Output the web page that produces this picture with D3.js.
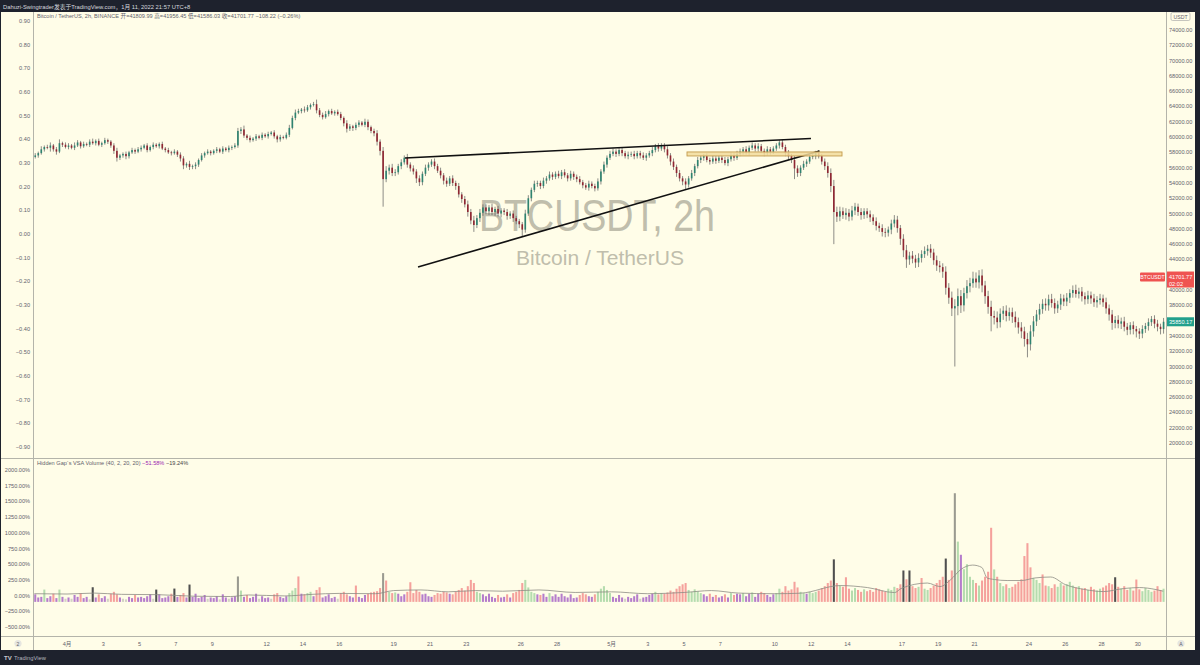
<!DOCTYPE html>
<html><head><meta charset="utf-8">
<script src="https://cdn.jsdelivr.net/npm/d3@7"></script>
<style>
html,body{margin:0;padding:0;background:#1e222d;}
svg{display:block;}
text{font-family:"Liberation Sans","Noto Sans CJK SC",Arial,sans-serif;}
</style></head><body>
<svg id="c" width="1200" height="665"></svg>
<script>
// ---------- DATA (4h candles, UTC+8, from 2021-03-30 04:00) ----------
const firstOpenK = 57.4;
const closeK = [
57.6,57.9,58.4,58.7,58.6,
58.9,58.4,58.1,59.2,59.0,58.7,
58.9,58.6,58.9,59.3,58.8,59.1,
59.0,59.4,59.2,59.5,59.0,59.2,
59.6,59.4,58.9,58.2,57.3,57.6,
57.8,57.5,58.0,58.3,58.1,58.4,
58.6,58.9,58.3,58.7,59.0,58.8,
59.1,58.5,58.3,58.0,57.9,58.1,
57.7,57.2,56.3,56.5,56.1,56.2,
56.4,57.0,57.6,57.9,58.1,57.9,
58.2,58.4,58.1,58.5,58.3,58.6,
58.7,58.9,60.8,61.0,60.2,59.9,
59.6,59.8,60.1,59.9,60.3,60.1,
60.4,60.6,60.1,59.7,60.0,59.9,
60.3,61.2,62.5,63.2,63.4,63.6,
63.5,63.9,64.2,64.3,63.5,62.9,
62.6,63.0,63.4,63.1,63.3,63.0,
62.5,61.8,61.1,61.4,61.2,61.6,
61.9,61.6,62.0,61.3,60.8,60.5,
59.4,58.2,54.5,55.6,56.0,55.3,
55.4,56.2,56.7,57.3,56.4,55.9,
55.5,54.6,54.1,55.2,56.0,56.4,
56.8,56.2,55.6,55.0,54.3,53.9,
54.6,54.0,53.6,52.5,51.9,51.2,
50.2,49.1,48.5,49.4,50.1,50.8,
50.3,50.8,50.2,50.6,50.0,50.4,
50.2,49.7,50.0,49.4,49.0,48.6,
47.9,50.0,52.0,53.1,53.9,54.0,
53.6,54.3,54.6,55.1,54.8,55.2,
54.9,55.4,55.0,54.6,55.2,54.8,
54.5,54.1,53.7,53.4,53.9,53.6,
53.3,54.2,55.5,56.4,57.3,57.8,
58.1,57.8,58.3,57.9,57.5,57.7,
57.8,57.5,57.9,57.6,57.3,57.6,
57.9,58.3,58.8,58.5,58.9,58.4,
57.6,56.8,56.1,55.3,54.6,54.2,
53.8,54.6,55.3,56.2,57.0,57.3,
57.5,57.0,56.8,57.2,56.9,57.3,
57.0,56.6,57.1,57.6,57.3,57.8,
58.1,58.4,58.0,58.6,58.9,58.5,
58.8,58.2,57.9,58.4,58.1,58.5,
58.9,59.3,58.7,57.9,57.5,57.0,
55.9,55.3,56.0,56.5,56.8,57.4,
57.5,57.9,57.5,56.8,56.2,55.3,
53.6,50.2,49.6,50.3,49.8,50.1,
49.6,50.4,50.9,50.2,49.8,50.3,
49.9,49.5,49.0,48.4,48.1,47.6,
47.5,47.9,48.7,49.2,48.1,46.7,
45.2,44.0,44.5,44.1,43.6,44.2,
44.7,45.1,45.4,44.9,43.9,43.2,
43.0,42.4,40.3,39.0,37.6,37.9,
39.2,38.0,39.6,40.5,40.9,41.5,
41.0,41.9,40.6,39.2,37.8,36.6,
36.4,35.8,36.9,37.3,36.6,37.1,
36.5,35.8,35.1,34.6,33.6,32.9,
34.6,35.9,36.8,37.5,38.2,38.0,
38.8,38.3,37.6,38.1,38.9,38.5,
39.0,39.6,40.0,39.5,39.8,39.2,
38.8,39.3,38.9,38.4,38.7,38.9,
38.4,37.6,36.8,35.7,36.1,35.6,
35.9,35.2,34.8,35.4,34.9,34.6,
34.3,34.9,35.3,35.8,36.2,35.6,
35.2,34.9,35.85
];
// upper / lower wick lengths, in hundreds of USDT
const wickUp = [
3,2,4,2,3, 4,2,3,5,2,3, 3,2,4,3,2,3, 2,3,4,2,3,2, 3,2,2,3,4,2, 2,3,2,3,2,3,
3,2,3,2,3,2, 2,3,2,3,2,3, 2,3,3,2,4,2, 3,2,3,2,3,2, 2,3,2,3,2,3, 2,3,4,3,5,2,
3,2,3,2,3,2, 3,2,3,2,3,2, 3,4,3,4,3,2, 4,3,2,3,6,3, 3,4,2,3,2,3, 3,2,4,3,2,3,
3,2,4,3,2,3, 4,3,5,6,4,5, 4,3,4,3,5,3, 4,3,4,3,4,3, 3,4,3,4,3,4, 3,4,3,4,3,4,
5,4,6,4,5,4, 4,3,5,3,4,3, 3,4,3,4,3,3, 3,5,4,3,4,3, 3,4,3,4,3,3, 4,3,4,3,4,3,
3,4,3,3,4,3, 3,4,3,4,3,4, 4,3,4,3,3,4, 3,4,3,3,4,3, 3,4,3,4,3,3, 4,3,4,3,4,3,
4,3,4,3,4,3, 3,4,3,4,3,3, 3,4,3,4,3,4, 4,3,4,3,4,3, 4,3,3,4,3,3, 3,3,4,3,4,3,
5,4,3,4,3,4, 3,3,4,3,4,5, 6,8,7,6,5,6, 5,6,5,4,5,4, 4,5,4,5,4,5, 5,4,5,6,5,4,
6,7,5,6,5,6, 5,6,5,6,5,6, 6,5,7,6,8,9, 10,8,7,8,7,9, 8,7,8,6,7,8, 7,8,7,6,7,6,
6,7,6,7,6,8, 8,7,6,7,6,7, 6,7,6,5,6,5, 6,5,6,7,5,6, 5,6,5,6,5,6, 5,6,5,6,5,6,
5,6,5,4,5,4, 4,5,4,5,4,5, 5,4,5
];
const wickDn = [
2,3,2,3,2, 5,3,4,2,3,2, 3,2,3,2,3,2, 2,3,2,3,2,3, 2,3,3,4,5,3, 3,4,3,2,3,2,
3,2,3,2,3,2, 3,2,3,2,3,2, 3,4,5,3,4,3, 4,3,2,3,2,3, 2,3,2,3,2,3, 3,2,3,4,3,3,
3,2,3,2,3,2, 3,2,3,4,3,2, 2,3,2,3,2,3, 3,2,3,2,4,3, 3,2,3,2,3,2, 3,4,5,3,4,3,
3,2,3,4,3,4, 5,6,36,4,5,4, 4,3,4,3,4,4, 4,6,5,4,3,4, 3,4,3,4,5,4, 3,4,5,4,5,4,
6,5,9,4,5,4, 4,5,4,5,4,5, 4,5,4,5,4,5, 9,4,3,4,3,4, 4,3,4,3,4,3, 3,4,3,4,3,4,
4,3,4,3,4,3, 4,3,4,3,4,3, 3,4,3,4,3,4, 3,4,3,4,3,4, 3,4,3,4,3,4, 4,5,4,5,4,5,
7,4,3,4,3,4, 4,3,4,3,4,3, 4,3,4,3,4,3, 3,4,3,4,3,4, 4,3,4,3,4,3, 3,4,3,4,5,4,
14,5,4,3,4,3, 3,4,3,4,5,6, 8,42,7,6,5,6, 6,5,6,5,6,5, 5,6,5,6,5,6, 6,5,6,5,6,8,
9,11,7,6,7,6, 6,5,6,7,6,7, 7,8,9,8,10,76, 12,10,8,7,8,6, 7,8,9,10,9,20, 9,8,7,8,7,6,
8,7,8,9,10,17, 8,7,6,7,6,7, 7,6,7,6,7,6, 6,7,6,5,6,7, 7,6,7,6,7,6, 6,7,8,9,7,6,
7,6,7,6,7,8, 7,6,5,6,5,6, 6,7,6
];
// VSA volume (%), one per candle
const volPct = [
20,-30,-20,96,-40,
-10,30,-40,96,-20,-50,
-30,-50,10,-20,40,-40,
-20,-60,133,-30,20,-40,
-10,-50,30,60,20,-30,
-50,-60,-20,-40,10,-30,
-20,-40,-10,20,-50,96,
20,-40,-30,-10,30,112,
-20,10,40,-30,176,-20,
30,-40,-20,10,-50,-30,
-40,-10,-60,20,-30,-50,
-30,-10,305,80,-20,10,
-40,-20,30,-50,-10,-40,
-30,-50,20,40,-20,-40,
-10,40,80,120,305,30,
20,40,60,-10,90,133,
-30,-10,20,-40,-20,-50,
40,60,20,-10,-30,160,
-20,-40,10,30,50,60,
70,120,358,240,60,40,
50,30,-10,20,60,213,
40,90,60,20,30,-10,
-20,10,40,30,60,50,
30,20,60,90,120,80,
150,250,200,60,40,20,
-10,30,-20,-40,10,-30,
-20,20,-30,40,60,90,
200,250,130,60,40,20,
10,30,-20,40,-10,20,
-20,30,-10,-30,20,-40,
-30,10,40,20,-10,-20,
20,60,110,150,90,40,
-20,-40,10,-30,-50,-20,
-40,-10,20,-50,-30,-20,
10,30,60,20,40,30,
50,80,60,110,150,180,
200,90,60,100,70,40,
20,-10,30,-20,10,-30,
-10,20,-30,40,10,30,
20,40,-10,30,50,-20,
30,60,40,10,-20,20,
40,110,60,150,80,100,
220,130,60,40,30,60,
40,60,80,120,150,200,
240,577,200,160,140,292,
110,80,120,90,60,100,
70,90,60,120,100,80,
60,110,90,140,120,180,
400,260,400,150,120,140,
280,110,90,120,160,200,
250,300,590,250,400,1630,
860,650,420,500,300,250,
200,160,240,300,380,1080,
417,300,200,150,180,120,
140,180,220,260,630,835,
450,280,250,200,337,160,
150,120,180,140,200,160,
180,220,160,130,150,110,
120,90,140,100,80,110,
130,160,200,180,292,140,
110,150,90,120,80,256,
100,70,120,90,60,80,
150,90,110
];
// colour overrides for single volume bars (r pink, g green, p purple, k dark grey, m grey)
const volColorOverrides = {19:"k",40:"k",46:"k",51:"k",67:"m",87:"r",94:"r",106:"r",115:"m",116:"r",124:"r",
  264:"k",268:"r",287:"k",289:"k",293:"r",301:"k",304:"m",305:"g",306:"p",316:"r",317:"g",327:"r",328:"r",329:"r",333:"r",357:"k",364:"r"};
// volume average line (days since 1 Apr, %)
const maDays = [-1.8,0,1.5,3,5,7,9,10,12,13.5,15,17,18,19.5,21,22.5,24,26,28,30,32,34,35.5,37,39,40.4,42.6,44.1,45.6,45.95,47.4,48.1,48.7,49.25,49.9,50.4,50.7,51.1,51.8,52.6,53.3,54.2,55.0,56.1,57.1,58.2,59.1,60.0,60.4];
const maPct  = [30,25,40,20,15,-10,-15,10,-5,20,35,30,80,90,60,80,70,90,50,60,30,50,80,40,30,38,160,128,48,112,200,144,256,417,486,449,280,256,240,240,280,296,176,96,64,112,128,96,70];
// drawings: [days since 1 Apr, price]
const upperTrend = [[18.62,57270],[40.99,59820]];
const lowerTrend = [[19.34,43020],[41.46,58185]];
const zoneBox = {d0:34.16, d1:42.7, p0:57530, p1:58055};
// axes
const priceTicks = d3.range(20000, 74001, 2000);
const leftTicks = d3.range(-9, 10).map(v => v/10);
const volTicks = d3.range(-500, 2001, 250);
const timeTickDays = [0,2,4,6,8,11,13,15,18,20,22,25,27,30,32,34,36,39,41,43,46,48,50,53,55,57,59];
const timeTickLabels = ["4月","3","5","7","9","12","14","16","19","21","23","26","28","5月","3","5","7","10","12","14","17","19","21","24","26","28","30"];
const lastPrice = 41701.77, markPrice = 35850.17;

// ---------- RENDER ----------
const svg = d3.select("#c");
const DAY = 864e5, BAR = 4*3600e3;
const t0 = Date.UTC(2021,3,1);
const firstBar = Date.UTC(2021,2,30,4);
const dd = d => new Date(t0 + d*DAY);
const x = d3.scaleUtc().domain([dd(0), dd(59)]).range([67, 1137.85]);
const y = d3.scaleLinear().domain([20000, 74000]).range([443, 30]);
const yL = d3.scaleLinear().domain([-0.9, 0.9]).range([447, 21]);
const yV = d3.scaleLinear().domain([-500, 2000]).range([627, 470]);
const minus = s => s.replace("-", "\u2212");

const bg = "#fffde8", axisCol = "#b4b4aa", lab = "#5f626c";
svg.append("rect").attr("width",1200).attr("height",665).attr("fill","#1e222d");
svg.append("rect").attr("x",1).attr("y",12).attr("width",1194).attr("height",638).attr("fill",bg);

const defs = svg.append("defs");
defs.append("clipPath").attr("id","pp").append("rect").attr("x",34).attr("y",12).attr("width",1132).attr("height",446);
defs.append("clipPath").attr("id","vp").append("rect").attr("x",34).attr("y",459).attr("width",1132).attr("height",177);

// watermark
svg.append("text").attr("x",597).attr("y",231).attr("text-anchor","middle").attr("font-size",44)
  .attr("textLength",236).attr("lengthAdjust","spacingAndGlyphs").attr("fill","#c0beac").text("BTCUSDT, 2h");
svg.append("text").attr("x",600).attr("y",265).attr("text-anchor","middle").attr("font-size",21)
  .attr("textLength",168).attr("lengthAdjust","spacingAndGlyphs").attr("fill","#c0beac").text("Bitcoin / TetherUS");

// candles
const candles = closeK.map((c,i) => {
  const o = i ? closeK[i-1] : firstOpenK;
  return {t:new Date(firstBar + i*BAR + BAR/2), o:o*1000, c:c*1000,
    h:(Math.max(o,c) + (wickUp[i]||2)/10)*1000, l:(Math.min(o,c) - (wickDn[i]||2)/10)*1000, v:volPct[i]};
});
const bw = x(dd(4/24)) - x(dd(0));
const pg = svg.append("g").attr("clip-path","url(#pp)");
const upC = "#2e8370", dnC = "#8f2632";
pg.selectAll("line.w").data(candles).join("line")
  .attr("x1",d=>x(d.t)).attr("x2",d=>x(d.t)).attr("y1",d=>y(d.h)).attr("y2",d=>y(d.l))
  .attr("stroke","#5c5c5c").attr("stroke-width",0.7);
pg.selectAll("rect.b").data(candles).join("rect")
  .attr("x",d=>x(d.t)-bw*0.27).attr("width",bw*0.54)
  .attr("y",d=>y(Math.max(d.o,d.c))).attr("height",d=>Math.max(0.8, Math.abs(y(d.o)-y(d.c))))
  .attr("fill",d=>d.c>=d.o?upC:dnC);

// drawings
const pt = a => [x(dd(a[0])), y(a[1])];
[upperTrend, lowerTrend].forEach(L => {
  pg.append("line").attr("x1",pt(L[0])[0]).attr("y1",pt(L[0])[1]).attr("x2",pt(L[1])[0]).attr("y2",pt(L[1])[1])
    .attr("stroke","#111").attr("stroke-width",1.6);
});
pg.append("rect").attr("x",x(dd(zoneBox.d0))).attr("width",x(dd(zoneBox.d1))-x(dd(zoneBox.d0)))
  .attr("y",y(zoneBox.p1)).attr("height",y(zoneBox.p0)-y(zoneBox.p1))
  .attr("fill","#f2dc9c").attr("fill-opacity",0.85).attr("stroke","#c49a4c").attr("stroke-width",0.9);

// volume
const colMap = {r:"#f5a19c", g:"#b5dcae", p:"#b57ccb", k:"#4f4f4f", m:"#9a9a90", l:"#d2d1c4"};
const vcol = (d,i) => {
  if (volColorOverrides[i]) return colMap[volColorOverrides[i]];
  if (d.v < -45) return colMap.l;
  if (d.c < d.o) return d.v > 0 ? colMap.r : colMap.p;
  return d.v > 30 ? colMap.g : colMap.p;
};
const vg = svg.append("g").attr("clip-path","url(#vp)");
vg.selectAll("rect").data(candles).join("rect")
  .attr("x",d=>x(d.t)-bw*0.34).attr("width",bw*0.68)
  .attr("y",d=>yV(d.v)).attr("height",d=>yV(-100)-yV(d.v))
  .attr("fill",vcol);
vg.append("path").datum(maDays.map((d,i)=>[d,maPct[i]]))
  .attr("d", d3.line().x(p=>x(dd(p[0]))).y(p=>yV(p[1])).curve(d3.curveMonotoneX))
  .attr("fill","none").attr("stroke","#8d8c84").attr("stroke-width",0.8);

// axis lines
const ln = (x1,y1,x2,y2) => svg.append("line").attr("x1",x1).attr("y1",y1).attr("x2",x2).attr("y2",y2).attr("stroke",axisCol).attr("stroke-width",1);
ln(33.5,12,33.5,650); ln(1166.5,12,1166.5,650); ln(1,458.5,1195,458.5); ln(1,636.5,1195,636.5);

// right price axis
const ra = svg.append("g");
ra.selectAll("text").data(priceTicks).join("text").attr("x",1169).attr("y",p=>y(p)+2)
  .attr("font-size",5.6).attr("fill",lab).text(p=>d3.format(".2f")(p));
// USDT box
svg.append("rect").attr("x",1171).attr("y",12.5).attr("width",19).attr("height",8).attr("rx",1.5).attr("fill",bg).attr("stroke","#a0a0a0").attr("stroke-width",0.6);
svg.append("text").attr("x",1180.5).attr("y",18.8).attr("text-anchor","middle").attr("font-size",5.2).attr("fill",lab).text("USDT");

// left axis
svg.selectAll("text.l").data(leftTicks).join("text").attr("x",30).attr("y",v=>yL(v)+2).attr("text-anchor","end")
  .attr("font-size",5.6).attr("fill",lab).text(v=>minus(d3.format(".2f")(v)));
svg.selectAll("text.v").data(volTicks).join("text").attr("x",30).attr("y",v=>yV(v)+2).attr("text-anchor","end")
  .attr("font-size",5.6).attr("fill",lab).text(v=>minus(d3.format(".2f")(v))+"%");

// time axis
svg.append("g").selectAll("text").data(timeTickDays).join("text").attr("x",d=>x(dd(d))).attr("y",645.5)
  .attr("text-anchor","middle").attr("font-size",5.6).attr("fill",lab).text((d,i)=>timeTickLabels[i]);

// price labels
const yl = y(lastPrice);
svg.append("rect").attr("x",1140).attr("y",yl-4.5).attr("width",25).attr("height",9).attr("rx",1).attr("fill","#ef5350");
svg.append("text").attr("x",1152.5).attr("y",yl+1.8).attr("text-anchor","middle").attr("font-size",5.2).attr("fill","#fff").text("BTCUSDT");
svg.append("rect").attr("x",1167).attr("y",yl-5.5).attr("width",27).attr("height",16).attr("fill","#ef5350");
svg.append("text").attr("x",1169).attr("y",yl+1.8).attr("font-size",5.6).attr("fill","#fff").text(d3.format(".2f")(lastPrice));
svg.append("text").attr("x",1169).attr("y",yl+8.5).attr("font-size",5.6).attr("fill","#fff").text("02:02");
const ym = y(markPrice);
svg.append("rect").attr("x",1167).attr("y",ym-4.5).attr("width",27).attr("height",9).attr("fill","#22a08c");
svg.append("text").attr("x",1169).attr("y",ym+2).attr("font-size",5.6).attr("fill","#fff").text(d3.format(".2f")(markPrice));

// legends
const t1 = svg.append("text").attr("x",37).attr("y",18).attr("font-size",5.6).attr("fill",lab);
t1.append("tspan").text("Bitcoin / TetherUS, 2h, BINANCE ");
t1.append("tspan").text("开=41809.99 高=41956.45 低=41586.03 收=41701.77 \u2212108.22 (\u22120.26%)");
const t2 = svg.append("text").attr("x",37).attr("y",465).attr("font-size",5.6).attr("fill",lab);
t2.append("tspan").text("Hidden Gap`s VSA Volume (40, 2, 20, 20)  ");
t2.append("tspan").attr("fill","#9c27b0").text("\u221251.58%");
t2.append("tspan").attr("fill","#444").text("  \u221219.24%");

// header / footer
svg.append("text").attr("x",3).attr("y",8.5).attr("font-size",5.8).attr("fill","#d6d8de").text("Dahuzi-Swingtrader发表于TradingView.com，1月 11, 2022 21:57 UTC+8");
svg.append("text").attr("x",4).attr("y",660).attr("font-size",6).attr("font-weight","bold").attr("fill","#c8cad0").text("TV");
svg.append("text").attr("x",14).attr("y",660).attr("font-size",5.8).attr("fill","#b2b5be").text("TradingView");
svg.append("circle").attr("cx",18).attr("cy",643.5).attr("r",3.6).attr("fill","#e6e6e0");
svg.append("text").attr("x",18).attr("y",645.5).attr("text-anchor","middle").attr("font-size",5).attr("fill",lab).text("2");
svg.append("circle").attr("cx",1181).attr("cy",643.5).attr("r",3.6).attr("fill","#e6e6e0");
svg.append("text").attr("x",1181).attr("y",645.5).attr("text-anchor","middle").attr("font-size",5).attr("fill",lab).text("A");
</script>
</body></html>
